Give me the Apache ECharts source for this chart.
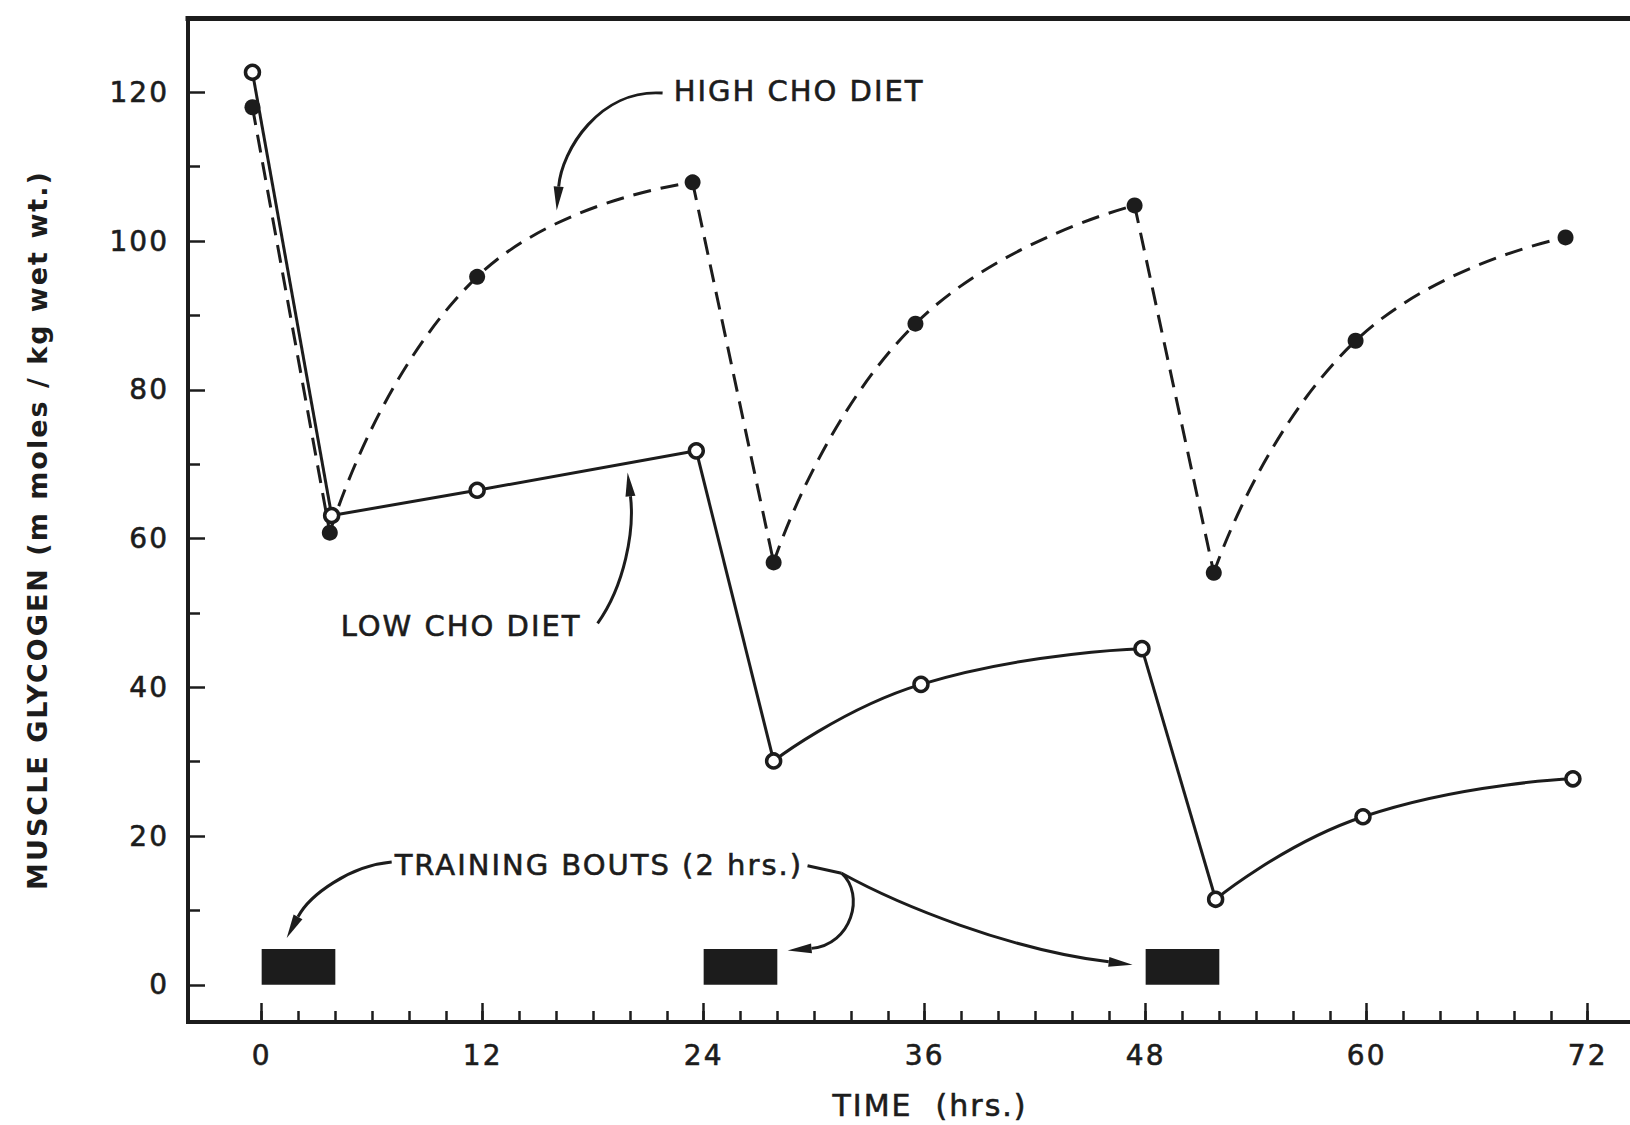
<!DOCTYPE html>
<html>
<head>
<meta charset="utf-8">
<title>Muscle glycogen during repeated training</title>
<script src="https://cdn.jsdelivr.net/npm/echarts@6/dist/echarts.min.js"></script>
<style>
  html, body { margin: 0; padding: 0; background: #ffffff; }
  #chart { width: 1630px; height: 1125px; }
  /* hand-lettered look: open letter spacing, keep double spaces */
  #chart text { letter-spacing: 2px; white-space: pre; }
</style>
</head>
<body>
<div id="chart"></div>
<script>
// Muscle glycogen (mmol / kg wet wt.) over three days of daily 2-h training
const highChoHours    = [-0.5, 3.7, 11.7, 23.4, 27.8, 35.5, 47.4, 51.7, 59.4, 70.8];
const highChoGlycogen = [118.0, 60.8, 95.2, 107.9, 56.8, 88.9, 104.8, 55.4, 86.6, 100.5];
const lowChoHours     = [-0.5, 3.8, 11.7, 23.6, 27.8, 35.8, 47.8, 51.8, 59.8, 71.2];
const lowChoGlycogen  = [122.7, 63.1, 66.5, 71.8, 30.1, 40.4, 45.2, 11.5, 22.6, 27.7];

// Exercise (drop) and recovery stretches, as indices into the arrays above
const dropSegments     = [[0, 1], [3, 4], [6, 7]];
const recoverySegments = [[1, 2, 3], [4, 5, 6], [7, 8, 9]];

// Training bouts drawn as blocks along the time axis
const boutStart  = [0, 24, 48];
const boutEnd    = [4, 28, 52];
const boutHeight = [4.8, 4.8, 4.8];

// Tick values
const timeLabels = [0, 12, 24, 36, 48, 60, 72];
const timeMinorTicks = [0, 2, 4, 6, 8, 10, 12, 14, 16, 18, 20, 22, 24, 26, 28, 30, 32, 34, 36,
                        38, 40, 42, 44, 46, 48, 50, 52, 54, 56, 58, 60, 62, 64, 66, 68, 70, 72];
const glycogenLabels = [0, 20, 40, 60, 80, 100, 120];
const glycogenMinorTicks = [10, 30, 50, 70, 90, 110];

// Callout texts (anchored in hours / glycogen units)
const calloutTexts = [
  { text: 'HIGH CHO DIET', at: [22.37, 120.2] },
  { text: 'LOW CHO DIET', at: [4.29, 48.2] },
  { text: 'TRAINING BOUTS (2 hrs.)', at: [7.22, 16.1] }
];
// Cubic arrow paths: start, control 1, control 2, tip
const calloutArrows = [
  [[21.77, 119.9], [18.35, 120.5], [16.29, 112.2], [16.02, 104.1]],
  [[18.24, 48.6], [19.71, 53.7], [20.25, 61.1], [19.87, 68.9]],
  [[7.06, 16.5], [4.78, 16.0], [2.61, 12.1], [1.36, 6.3]],
  [[31.49, 15.0], [32.79, 12.1], [32.03, 5.4], [28.56, 4.6]],
  [[31.49, 15.0], [34.64, 10.7], [40.61, 4.7], [47.29, 2.7]]
];
const calloutLeaders = [
  [[29.64, 16.0], [31.49, 15.0]]
];

const INK = '#1c1c1c';
const FONT = '"DejaVu Sans", Verdana, sans-serif';
const X_MIN = -4, X_MAX = 74.3, Y_MIN = -5, Y_MAX = 130;
// slight outline so the lettering reads as heavy as pen-drawn type
const INK_EDGE = { textBorderColor: INK, textBorderWidth: 0.6 };

function pick(hours, values, idx) {
  return idx.map(i => [hours[i], values[i]]);
}

function segmentSeries(name, hours, values, dashed) {
  const out = [];
  const lineStyle = { color: INK, width: 3, type: dashed ? [18, 10] : 'solid', cap: 'butt' };
  dropSegments.forEach(idx => out.push({
    name, type: 'line', data: pick(hours, values, idx), smooth: false,
    showSymbol: false, lineStyle, silent: true, z: 2
  }));
  recoverySegments.forEach(idx => out.push({
    name, type: 'line', data: pick(hours, values, idx), smooth: 0.5,
    showSymbol: false, lineStyle, silent: true, z: 2
  }));
  return out;
}

const chart = echarts.init(document.getElementById('chart'), null, { renderer: 'svg' });

const tickLabelStyle = Object.assign({ color: INK, fontSize: 28, fontFamily: FONT }, INK_EDGE);

const option = {
  animation: false,
  backgroundColor: '#ffffff',
  grid: { left: 188, right: 0, top: 18, bottom: 103, containLabel: false, outerBoundsMode: 'none' },
  xAxis: [
    {
      type: 'value', position: 'bottom', min: X_MIN, max: X_MAX,
      axisLine: { show: true, onZero: false, lineStyle: { color: INK, width: 4, cap: 'square' } },
      axisTick: { show: true, inside: true, length: 11, customValues: timeMinorTicks,
                  lineStyle: { color: INK, width: 2.5 } },
      axisLabel: Object.assign({ show: true, customValues: timeLabels, margin: 19 }, tickLabelStyle),
      splitLine: { show: false },
      name: 'TIME  (hrs.)', nameLocation: 'middle', nameGap: 68,
      nameTextStyle: Object.assign({ color: INK, fontSize: 30, fontFamily: FONT, padding: [0, 0, 0, 42] }, INK_EDGE)
    },
    {
      type: 'value', position: 'bottom', min: X_MIN, max: X_MAX,
      axisLine: { show: false, onZero: false },
      axisTick: { show: true, inside: true, length: 19, customValues: timeLabels,
                  lineStyle: { color: INK, width: 2.5 } },
      axisLabel: { show: false }, splitLine: { show: false }
    },
    {
      type: 'value', position: 'top', min: X_MIN, max: X_MAX,
      axisLine: { show: true, onZero: false, lineStyle: { color: INK, width: 5, cap: 'square' } },
      axisTick: { show: false }, axisLabel: { show: false }, splitLine: { show: false }
    }
  ],
  yAxis: [
    {
      type: 'value', position: 'left', min: Y_MIN, max: Y_MAX,
      axisLine: { show: true, onZero: false, lineStyle: { color: INK, width: 4, cap: 'square' } },
      axisTick: { show: true, inside: true, length: 17, customValues: glycogenLabels,
                  lineStyle: { color: INK, width: 2.5 } },
      axisLabel: Object.assign({ show: true, customValues: glycogenLabels, margin: 19 }, tickLabelStyle),
      splitLine: { show: false },
      name: 'MUSCLE GLYCOGEN (m moles / kg wet wt.)', nameLocation: 'middle', nameGap: 137,
      nameTextStyle: { color: INK, fontSize: 27, fontWeight: 'bold', fontFamily: FONT, padding: [0, 20, 0, 0] }
    },
    {
      type: 'value', position: 'left', min: Y_MIN, max: Y_MAX,
      axisLine: { show: false, onZero: false },
      axisTick: { show: true, inside: true, length: 12, customValues: glycogenMinorTicks,
                  lineStyle: { color: INK, width: 2.5 } },
      axisLabel: { show: false }, splitLine: { show: false }
    }
  ],
  series: [
    {
      name: 'Training bouts', type: 'custom', silent: true, z: 1,
      data: boutStart.map((s, i) => [s, boutEnd[i], boutHeight[i]]),
      encode: { x: [0, 1], y: 2 },
      renderItem: (params, api) => {
        const topLeft = api.coord([api.value(0), api.value(2)]);
        const bottomRight = api.coord([api.value(1), 0]);
        return {
          type: 'rect',
          shape: { x: topLeft[0], y: topLeft[1],
                   width: bottomRight[0] - topLeft[0], height: bottomRight[1] - topLeft[1] },
          style: { fill: INK }
        };
      }
    },
    ...segmentSeries('High CHO diet', highChoHours, highChoGlycogen, true),
    ...segmentSeries('Low CHO diet', lowChoHours, lowChoGlycogen, false),
    {
      name: 'High CHO diet', type: 'scatter', silent: true, z: 5,
      data: highChoHours.map((h, i) => [h, highChoGlycogen[i]]),
      symbol: 'circle', symbolSize: 16,
      itemStyle: { color: INK, opacity: 1 }
    },
    {
      name: 'Low CHO diet', type: 'scatter', silent: true, z: 6,
      data: lowChoHours.map((h, i) => [h, lowChoGlycogen[i]]),
      symbol: 'circle', symbolSize: 14,
      itemStyle: { color: '#ffffff', borderColor: INK, borderWidth: 3.5, opacity: 1 }
    }
  ]
};

chart.setOption(option);

// Callouts: text, curved leader arrows with filled heads
const toPx = p => chart.convertToPixel({ xAxisIndex: 0, yAxisIndex: 0 }, p);
const elements = [];

calloutTexts.forEach(c => {
  const [x, y] = toPx(c.at);
  elements.push({
    type: 'text', x, y, silent: true, z: 20,
    style: Object.assign({ text: c.text, fill: INK, font: '29px ' + FONT, align: 'left', verticalAlign: 'middle' },
      { stroke: INK, lineWidth: 0.6 })
  });
});

calloutLeaders.forEach(seg => {
  const [a, b] = seg.map(toPx);
  elements.push({
    type: 'line', silent: true, z: 20,
    shape: { x1: a[0], y1: a[1], x2: b[0], y2: b[1] },
    style: { stroke: INK, lineWidth: 3 }
  });
});

calloutArrows.forEach(path => {
  const [p0, p1, p2, p3] = path.map(toPx);
  let dx = p3[0] - p2[0], dy = p3[1] - p2[1];
  const len = Math.hypot(dx, dy) || 1;
  dx /= len; dy /= len;
  const headLen = 24, headWidth = 10;
  const bx = p3[0] - dx * headLen, by = p3[1] - dy * headLen;
  elements.push({
    type: 'bezierCurve', silent: true, z: 20,
    shape: { x1: p0[0], y1: p0[1], cpx1: p1[0], cpy1: p1[1], cpx2: p2[0], cpy2: p2[1], x2: bx, y2: by },
    style: { stroke: INK, lineWidth: 3, fill: null }
  });
  elements.push({
    type: 'polygon', silent: true, z: 20,
    shape: { points: [p3, [bx - dy * headWidth / 2, by + dx * headWidth / 2],
                          [bx + dy * headWidth / 2, by - dx * headWidth / 2]] },
    style: { fill: INK }
  });
});

chart.setOption({ graphic: elements });
</script>
</body>
</html>
